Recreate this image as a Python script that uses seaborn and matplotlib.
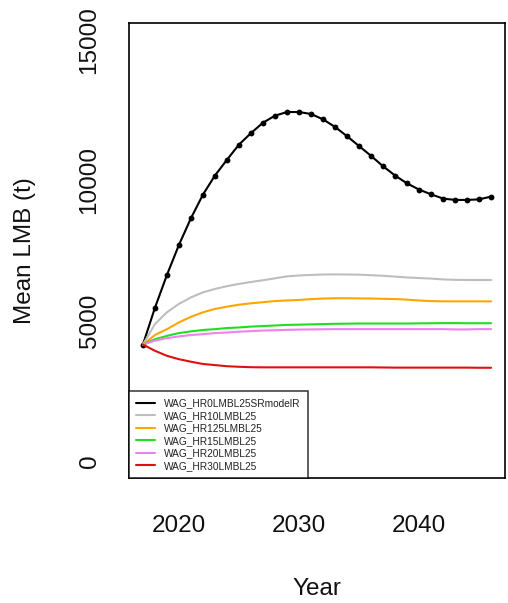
import matplotlib
matplotlib.use('Agg')
import matplotlib.pyplot as plt
import pandas as pd
import seaborn as sns

# Data (Mean LMB in tonnes per year)
years = list(range(2017, 2047))

scenarios = ['WAG_HR0LMBL25SRmodelR', 'WAG_HR10LMBL25', 'WAG_HR125LMBL25',
             'WAG_HR15LMBL25', 'WAG_HR20LMBL25', 'WAG_HR30LMBL25']
colors = ['black', '#bebebe', '#ffa500', '#22dd22', '#ee82ee', '#e01010']

hr0 = [4150, 5460, 6630, 7700, 8650, 9490, 10170, 10730, 11270, 11680,
       12050, 12300, 12430, 12430, 12360, 12170, 11900, 11570, 11220, 10870,
       10500, 10170, 9890, 9670, 9500, 9350, 9300, 9300, 9320, 9420]
hr10 = [4150, 4880, 5300, 5600, 5830, 6010, 6130, 6230, 6310, 6380,
        6440, 6510, 6580, 6610, 6630, 6645, 6650, 6645, 6640, 6620,
        6600, 6570, 6540, 6520, 6500, 6470, 6455, 6450, 6450, 6450]
hr125 = [4150, 4490, 4700, 4940, 5140, 5300, 5420, 5500, 5570, 5620,
         5660, 5700, 5720, 5740, 5770, 5790, 5800, 5800, 5795, 5790,
         5780, 5770, 5750, 5720, 5700, 5690, 5690, 5690, 5690, 5690]
hr15 = [4150, 4340, 4460, 4560, 4620, 4670, 4700, 4740, 4760, 4790,
        4810, 4830, 4850, 4860, 4870, 4880, 4890, 4895, 4900, 4900,
        4900, 4900, 4900, 4905, 4910, 4915, 4915, 4910, 4910, 4910]
hr20 = [4150, 4290, 4380, 4440, 4490, 4520, 4560, 4580, 4610, 4630,
        4650, 4660, 4675, 4685, 4690, 4695, 4700, 4700, 4700, 4700,
        4700, 4700, 4700, 4700, 4700, 4700, 4690, 4690, 4700, 4700]
hr30 = [4150, 3930, 3750, 3630, 3540, 3460, 3420, 3380, 3360, 3345,
        3340, 3340, 3340, 3340, 3340, 3340, 3340, 3340, 3340, 3340,
        3335, 3330, 3330, 3330, 3330, 3330, 3330, 3330, 3325, 3325]

xticks = [2020, 2025, 2030, 2035, 2040, 2045]
xtick_labels = ['2020', '', '2030', '', '2040', '']
yticks = [0, 5000, 10000, 15000]

series = [hr0, hr10, hr125, hr15, hr20, hr30]
df = pd.DataFrame({
    'year': years * len(scenarios),
    'value': sum(series, []),
    'scenario': [s for s in scenarios for _ in years],
})

sns.set_style('white')
plt.rcParams['font.family'] = ['Liberation Sans', 'DejaVu Sans']

fig = plt.figure(figsize=(5.08, 6.03), dpi=100)
ax = fig.add_axes([129 / 508, 1 - 478 / 603, 376 / 508, 455 / 603])

for name, col in zip(scenarios, colors):
    sub = df[df['scenario'] == name]
    sns.lineplot(data=sub, x='year', y='value', color=col, linewidth=1.5,
                 marker='o' if name == scenarios[0] else None,
                 markersize=4.2, markeredgewidth=0, label=name, ax=ax)

ax.set_xlim(2015.84, 2047.16)
ax.set_ylim(-600, 15600)
ax.set_xticks(xticks)
ax.set_xticklabels(xtick_labels)
ax.set_yticks(yticks)
ax.set_yticklabels([str(v) for v in yticks], rotation=90, va='center')

ax.tick_params(axis='both', direction='out', length=11.5, width=1.1,
               color='black', labelsize=17.5, labelcolor='#111111')
ax.tick_params(axis='x', pad=15)
ax.tick_params(axis='y', pad=9)

for sp in ax.spines.values():
    sp.set_color('black')
    sp.set_linewidth(1.2)
    sp.set_visible(True)

ax.set_xlabel('Year', fontsize=17.5, color='#111111')
ax.set_ylabel('Mean LMB (t)', fontsize=17.5, color='#111111')
ax.xaxis.set_label_coords(0.5, (478 - 589) / 455)
ax.xaxis.label.set_va('center')
ax.yaxis.set_label_coords((25 - 129) / 376, 0.5)
ax.yaxis.label.set_va('center')

leg = ax.legend(loc='lower left', bbox_to_anchor=(0, 0), borderaxespad=0,
                fontsize=7.25, frameon=True, fancybox=False,
                handlelength=1.9, handletextpad=0.9, labelspacing=0.25,
                borderpad=0.7)
leg.get_frame().set_edgecolor('black')
leg.get_frame().set_linewidth(1.1)
for h in leg.legend_handles:
    h.set_marker('')
for t in leg.get_texts():
    t.set_color('#222222')

fig.savefig('out.png', dpi=100)
